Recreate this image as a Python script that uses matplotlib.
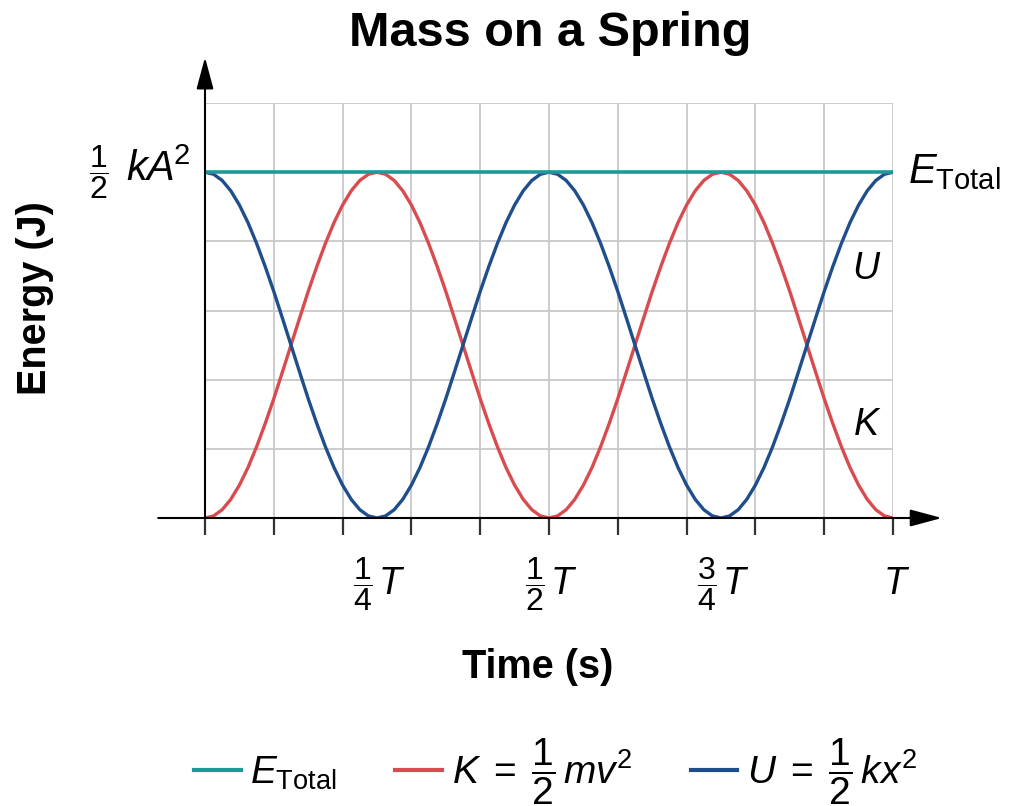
import numpy as np
import matplotlib.pyplot as plt
from matplotlib.lines import Line2D
from matplotlib.transforms import offset_copy

plt.rcParams['font.family'] = 'Liberation Sans'
plt.rcParams['mathtext.fontset'] = 'custom'
plt.rcParams['mathtext.rm'] = 'Liberation Sans'
plt.rcParams['mathtext.it'] = 'Liberation Sans:italic'
plt.rcParams['mathtext.bf'] = 'Liberation Sans:bold'

# time in units of the period T, sampled every T/80
t = np.linspace(0, 1, 81)

# energies in units of (1/2) k A^2
kinetic = [0.0, 0.006, 0.024, 0.054, 0.095, 0.146, 0.206, 0.273, 0.345, 0.422,
           0.5, 0.578, 0.655, 0.727, 0.794, 0.854, 0.905, 0.946, 0.976, 0.994,
           1.0, 0.994, 0.976, 0.946, 0.905, 0.854, 0.794, 0.727, 0.655, 0.578,
           0.5, 0.422, 0.345, 0.273, 0.206, 0.146, 0.095, 0.054, 0.024, 0.006,
           0.0, 0.006, 0.024, 0.054, 0.095, 0.146, 0.206, 0.273, 0.345, 0.422,
           0.5, 0.578, 0.655, 0.727, 0.794, 0.854, 0.905, 0.946, 0.976, 0.994,
           1.0, 0.994, 0.976, 0.946, 0.905, 0.854, 0.794, 0.727, 0.655, 0.578,
           0.5, 0.422, 0.345, 0.273, 0.206, 0.146, 0.095, 0.054, 0.024, 0.006,
           0.0]
potential = [1.0, 0.994, 0.976, 0.946, 0.905, 0.854, 0.794, 0.727, 0.655, 0.578,
             0.5, 0.422, 0.345, 0.273, 0.206, 0.146, 0.095, 0.054, 0.024, 0.006,
             0.0, 0.006, 0.024, 0.054, 0.095, 0.146, 0.206, 0.273, 0.345, 0.422,
             0.5, 0.578, 0.655, 0.727, 0.794, 0.854, 0.905, 0.946, 0.976, 0.994,
             1.0, 0.994, 0.976, 0.946, 0.905, 0.854, 0.794, 0.727, 0.655, 0.578,
             0.5, 0.422, 0.345, 0.273, 0.206, 0.146, 0.095, 0.054, 0.024, 0.006,
             0.0, 0.006, 0.024, 0.054, 0.095, 0.146, 0.206, 0.273, 0.345, 0.422,
             0.5, 0.578, 0.655, 0.727, 0.794, 0.854, 0.905, 0.946, 0.976, 0.994,
             1.0]
t_total = [0.0, 1.0]
e_total = [1.0, 1.0]

x_label_pos = [0.25, 0.5, 0.75, 1.0]
x_label_frac = [r'$\dfrac{1}{4}$', r'$\dfrac{1}{2}$', r'$\dfrac{3}{4}$', '']

teal = '#1c9a97'
red = '#d84b4f'
blue = '#1f4e8c'
gridc = '#c8c8c8'

fig = plt.figure(figsize=(10.12, 8.06), dpi=100)
ax = fig.add_axes([205 / 1012, 288 / 806, 688 / 1012, 415 / 806])
ax.set_xlim(0, 1)
ax.set_ylim(0, 1.2)
for s in ax.spines.values():
    s.set_visible(False)

# grid every T/10 and every 0.2 energy units
ax.set_xticks(np.arange(0, 11) / 10, minor=True)
ax.set_xticks([])
ax.set_yticks(np.arange(0, 7) * 0.2)
ax.set_yticklabels([])
ax.grid(which='minor', axis='x', color=gridc, lw=1.3)
ax.grid(which='major', axis='y', color=gridc, lw=1.3)
ax.tick_params(axis='x', which='minor', length=12, width=1.6, color='#333333', direction='out')
ax.tick_params(axis='y', length=0)
ax.set_axisbelow(True)

ax.plot(t, kinetic, color=red, lw=2.4, zorder=3, solid_capstyle='round')
ax.plot(t, potential, color=blue, lw=2.4, zorder=4, solid_capstyle='round')
ax.plot(t_total, e_total, color=teal, lw=2.6, zorder=5)

# axes with arrow heads
arrow = dict(arrowstyle='-|>,head_length=1.3,head_width=0.35', color='black',
             lw=1.5, mutation_scale=15, shrinkA=0, shrinkB=0)
ax.annotate('', xy=(1.071, 0), xytext=(-0.068, 0), arrowprops=arrow,
            annotation_clip=False, zorder=6)
ax.annotate('', xy=(0, 1.332), xytext=(0, 0), arrowprops=arrow,
            annotation_clip=False, zorder=6)

# time tick labels: fraction of the period followed by T
label_y = -0.19
for pos, frac in zip(x_label_pos, x_label_frac):
    if frac:
        ax.text(pos, label_y, frac, fontsize=23, ha='right', va='center', clip_on=False,
                transform=offset_copy(ax.transData, fig, x=-4, units='dots'))
        ax.text(pos, label_y, r'$T$', fontsize=27, ha='left', va='center', clip_on=False,
                transform=offset_copy(ax.transData, fig, x=1, units='dots'))
    else:
        ax.text(pos, label_y, r'$T$', fontsize=27, ha='center', va='center', clip_on=False,
                transform=offset_copy(ax.transData, fig, x=4, units='dots'))

# energy label at the total energy level
ax.text(0, 1.0, r'$kA^{\!2}$', fontsize=30, ha='right', va='center', clip_on=False,
        transform=offset_copy(ax.transData, fig, x=-15, y=2, units='dots'))
ax.text(0, 1.0, r'$\dfrac{1}{2}$', fontsize=23, ha='right', va='center', clip_on=False,
        transform=offset_copy(ax.transData, fig, x=-96, units='dots'))

ax.text(1.022, 1.0, r'$E_{\mathrm{Total}}$', fontsize=30, ha='left', va='center')
ax.text(0.962, 0.72, r'$U$', fontsize=27, ha='center', va='center')
ax.text(0.962, 0.27, r'$K$', fontsize=27, ha='center', va='center')

fig.text(550 / 1012, 1 - 33 / 806, 'Mass on a Spring', fontsize=35,
         fontweight='bold', ha='center', va='center')
fig.text(538 / 1012, 1 - 667 / 806, 'Time (s)', fontsize=28.5,
         fontweight='bold', ha='center', va='center')
fig.text(35 / 1012, 1 - 298 / 806, 'Energy (J)', fontsize=28.5,
         fontweight='bold', ha='center', va='center', rotation=90)

handles = [Line2D([], [], color=teal, lw=3),
           Line2D([], [], color=red, lw=3),
           Line2D([], [], color=blue, lw=3)]
labels = [r'$E_{\mathrm{Total}}$', r'$K\;=\;\dfrac{1}{2}\,mv^2$', r'$U\;=\;\dfrac{1}{2}\,kx^2$']
fig.legend(handles, labels, loc='center', bbox_to_anchor=(0.549, 1 - 772 / 806),
           ncol=3, frameon=False, fontsize=28, handlelength=1.2,
           handletextpad=0.25, columnspacing=1.5)

fig.savefig('out.png', dpi=100)
